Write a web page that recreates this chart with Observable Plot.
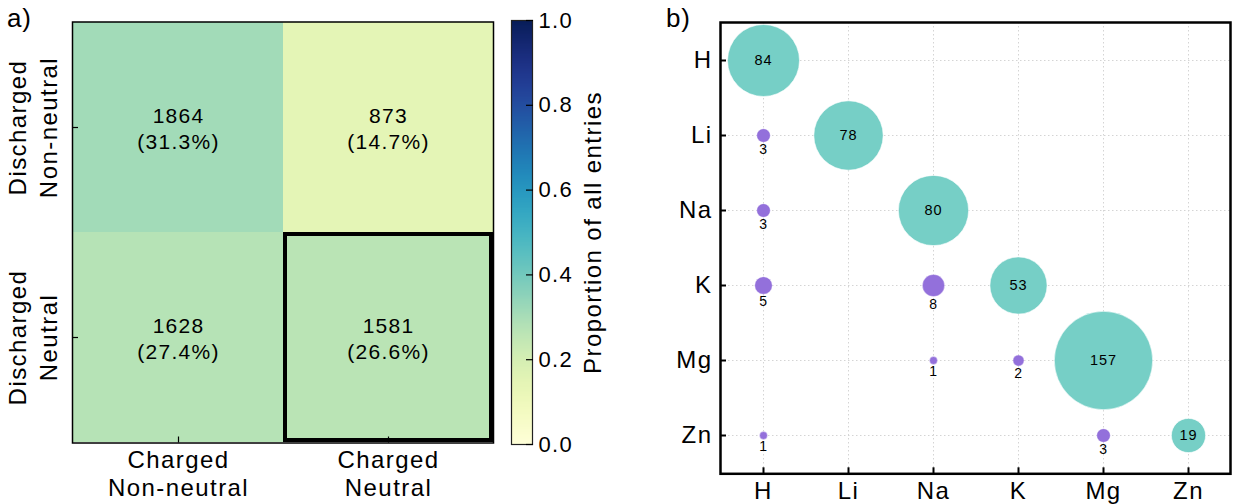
<!DOCTYPE html>
<html>
<head>
<meta charset="utf-8">
<script src="https://cdn.jsdelivr.net/npm/d3@7"></script>
<script src="https://cdn.jsdelivr.net/npm/@observablehq/plot@0.6"></script>
<style>
  html, body { margin: 0; padding: 0; background: #fff; }
  #root { position: relative; width: 1233px; height: 504px; overflow: hidden; font-family: "Liberation Sans", Arial, sans-serif; }
  #root > svg { position: absolute; top: 0; }
  #root text { letter-spacing: 0.06em; }
  .panel-label { position: absolute; font-size: 26px; color: #000; line-height: 1; letter-spacing: 0.03em; }
</style>
</head>
<body>
<div id="root"></div>
<script>
// ---------- Data: panel a (confusion matrix) ----------
const rowsA = ["Discharged\nNon-neutral", "Discharged\nNeutral"];
const colsA = ["Charged\nNon-neutral", "Charged\nNeutral"];
const countsA = [[1864, 873], [1628, 1581]];
const highlightRow = "Discharged\nNeutral";
const highlightCol = "Charged\nNeutral";

// colorbar
const cbarTicks = [0, 0.2, 0.4, 0.6, 0.8, 1.0];
const cbarTickLabels = ["0.0", "0.2", "0.4", "0.6", "0.8", "1.0"];
const cbarLabel = "Proportion of all entries";

// ---------- Data: panel b (ion bubble matrix) ----------
const ions = ["H", "Li", "Na", "K", "Mg", "Zn"];
const sameIonCounts = [84, 78, 80, 53, 157, 19];
const crossRows = ["Li", "Na", "K", "K", "Mg", "Mg", "Zn", "Zn"];
const crossCols = ["H", "H", "H", "Na", "Na", "K", "H", "Mg"];
const crossCounts = [3, 3, 5, 8, 1, 2, 1, 3];

const FONT = "Liberation Sans, Arial, sans-serif";
const root = document.getElementById("root");

// ---------- Panel a ----------
const total = d3.sum(countsA.flat());
const cells = [];
rowsA.forEach((r, i) => colsA.forEach((c, j) => cells.push({row: r, col: c, count: countsA[i][j], p: countsA[i][j] / total})));
const colorOpts = {type: "linear", scheme: "ylgnbu", domain: [0, 1]};

const plotA = Plot.plot({
  width: 510, height: 504,
  marginLeft: 72, marginRight: 17, marginTop: 21.5, marginBottom: 61.5,
  style: {fontFamily: FONT, background: "transparent", overflow: "visible"},
  x: {domain: colsA, padding: 0, axis: null},
  y: {domain: rowsA, padding: 0, axis: null},
  color: colorOpts,
  marks: [
    Plot.cell(cells, {x: "col", y: "row", fill: "p"}),
    Plot.cell(cells.filter(d => d.row === highlightRow && d.col === highlightCol),
      {x: "col", y: "row", fill: "none", stroke: "black", strokeWidth: 4, inset: 2}),
    Plot.frame({stroke: "black", strokeWidth: 1.5}),
    Plot.text(cells, {x: "col", y: "row", text: d => `${d.count}\n(${(d.p * 100).toFixed(1)}%)`,
      fontSize: 21, lineHeight: 1.25, fill: "black"}),
    Plot.axisX({anchor: "bottom", tickSize: -6, strokeWidth: 1.2, tickFormat: () => "", label: null}),
    Plot.axisY({anchor: "left", tickSize: -6, strokeWidth: 1.2, tickFormat: () => "", label: null}),
    Plot.text(colsA, {x: d => d, text: d => d, frameAnchor: "bottom", lineAnchor: "top",
      dy: 6, fontSize: 24, lineHeight: 1.14, fill: "black"}),
    Plot.text(rowsA, {y: d => d, text: d => d, frameAnchor: "left", textAnchor: "middle", rotate: -90,
      dx: -41, fontSize: 24, lineHeight: 1.3, fill: "black"})
  ]
});
plotA.style.left = "0px";
root.appendChild(plotA);

// ---------- Colorbar ----------
const plotC = Plot.plot({
  width: 120, height: 504,
  marginLeft: 11, marginRight: 88, marginTop: 20, marginBottom: 60,
  style: {fontFamily: FONT, background: "transparent", overflow: "visible"},
  x: {domain: [0, 1], axis: null},
  y: {domain: [0, 1], axis: null},
  color: colorOpts,
  marks: [
    Plot.raster({x1: 0, x2: 1, y1: 0, y2: 1, width: 1, height: 256, fill: (x, y) => y, imageRendering: "auto"}),
    Plot.frame({stroke: "#222", strokeWidth: 1.2}),
    Plot.axisY(cbarTicks, {anchor: "right", tickSize: -7, strokeWidth: 1.2, tickFormat: () => "", label: null}),
    Plot.text(cbarTicks, {y: d => d, text: (d, i) => cbarTickLabels[i], frameAnchor: "right",
      textAnchor: "start", dx: 6, fontSize: 22, fill: "black"}),
    Plot.text([cbarLabel], {text: d => d, frameAnchor: "right", textAnchor: "middle", rotate: -90, dx: 61,
      fontSize: 24, fill: "black"})
  ]
});
plotC.style.left = "500px";
root.appendChild(plotC);

// ---------- Panel b ----------
const diag = ions.map((ion, i) => ({row: ion, col: ion, n: sameIonCounts[i]}));
const cross = crossRows.map((r, i) => ({row: r, col: crossCols[i], n: crossCounts[i]}));
const rMax = 49.2;
const rScale = d3.scaleSqrt().domain([0, 157]).range([0, rMax]);
const crossLabelMarks = Array.from(d3.group(cross, d => d.n), ([n, items]) =>
  Plot.text(items, {x: "col", y: "row", text: "n", dy: rScale(n) + 7.5, fontSize: 14, fill: "black"}));

const plotB = Plot.plot({
  width: 593, height: 504,
  marginLeft: 80, marginRight: 3, marginTop: 22, marginBottom: 30.7,
  style: {fontFamily: FONT, background: "transparent", overflow: "visible"},
  x: {domain: ions, type: "point", padding: 0.5, axis: null},
  y: {domain: ions, type: "point", padding: 0.5, axis: null},
  r: {type: "sqrt", domain: [0, 157], range: [0, rMax]},
  marks: [
    Plot.gridX(ions, {stroke: "#d4d4d4", strokeOpacity: 1, strokeWidth: 1, strokeDasharray: "1.5,2.5"}),
    Plot.gridY(ions, {stroke: "#d4d4d4", strokeOpacity: 1, strokeWidth: 1, strokeDasharray: "1.5,2.5"}),
    Plot.dot(diag, {x: "col", y: "row", r: "n", fill: "#76cfc6", stroke: "white", strokeWidth: 0.6}),
    Plot.dot(cross, {x: "col", y: "row", r: "n", fill: "#9370db", stroke: "white", strokeWidth: 0.4}),
    Plot.text(diag, {x: "col", y: "row", text: "n", fontSize: 14.5, fill: "black"}),
    ...crossLabelMarks,
    Plot.frame({stroke: "black", strokeWidth: 2.5}),
    Plot.axisX({anchor: "bottom", tickSize: -6, strokeWidth: 2, tickFormat: () => "", label: null}),
    Plot.axisY({anchor: "left", tickSize: -6, strokeWidth: 2, tickFormat: () => "", label: null}),
    Plot.text(ions, {x: d => d, text: d => d, frameAnchor: "bottom", lineAnchor: "middle",
      dy: 18, fontSize: 24, fill: "black"}),
    Plot.text(ions, {y: d => d, text: d => d, frameAnchor: "left", textAnchor: "end",
      dx: -8, fontSize: 24, fill: "black"})
  ]
});
plotB.style.left = "640px";
root.appendChild(plotB);

// ---------- Panel letters ----------
for (const [txt, left] of [["a)", 7], ["b)", 666]]) {
  const d = document.createElement("div");
  d.className = "panel-label";
  d.style.left = left + "px";
  d.style.top = "5px";
  d.textContent = txt;
  root.appendChild(d);
}
</script>
</body>
</html>
